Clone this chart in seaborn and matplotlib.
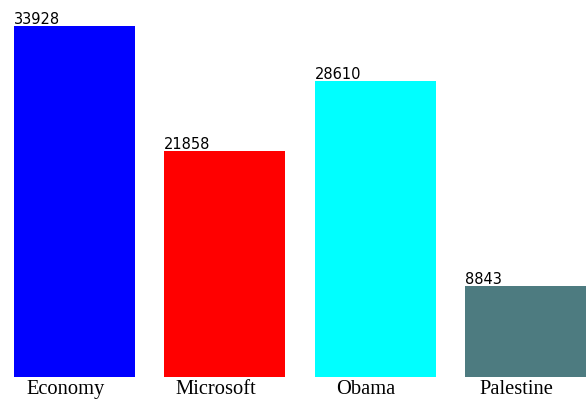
import matplotlib
matplotlib.use("Agg")
import matplotlib.pyplot as plt
import matplotlib.transforms as mtransforms
import seaborn as sns
import pandas as pd

categories = ["Economy", "Microsoft", "Obama", "Palestine"]
values = [33928, 21858, 28610, 8843]
colors = ["#0000ff", "#ff0000", "#00ffff", "#4d7b80"]

df = pd.DataFrame({"category": categories, "value": values})

sns.set_style("white")
fig = plt.figure(figsize=(5.87, 4.03), dpi=100)
ax = fig.add_axes([0, 26 / 403, 1, 377 / 403])

sns.barplot(data=df, x="category", y="value", hue="category", palette=colors,
            width=121 / 150, saturation=1, legend=False, linewidth=0, ax=ax)

ax.set_xlim(-74.5 / 150, 3 + 61.5 / 150)
ax.set_ylim(0, 36442)
for s in ax.spines.values():
    s.set_visible(False)
ax.set_yticks([])
ax.set_xlabel("")
ax.set_ylabel("")
ax.tick_params(axis="x", length=0, pad=2)
shift = mtransforms.ScaledTranslation(-9 / 100, 0, fig.dpi_scale_trans)
for lbl in ax.get_xticklabels():
    lbl.set_fontfamily("Liberation Serif")
    lbl.set_fontsize(14.8)
    lbl.set_color("black")
    lbl.set_transform(lbl.get_transform() + shift)

off = mtransforms.offset_copy(ax.transData, fig=fig, x=0, y=2, units="dots")
for p, v in zip(ax.patches, values):
    ax.text(p.get_x(), p.get_height(), str(v), transform=off,
            ha="left", va="baseline", fontsize=10.5, family="DejaVu Sans",
            color="black")

fig.savefig("out.png", dpi=100)
